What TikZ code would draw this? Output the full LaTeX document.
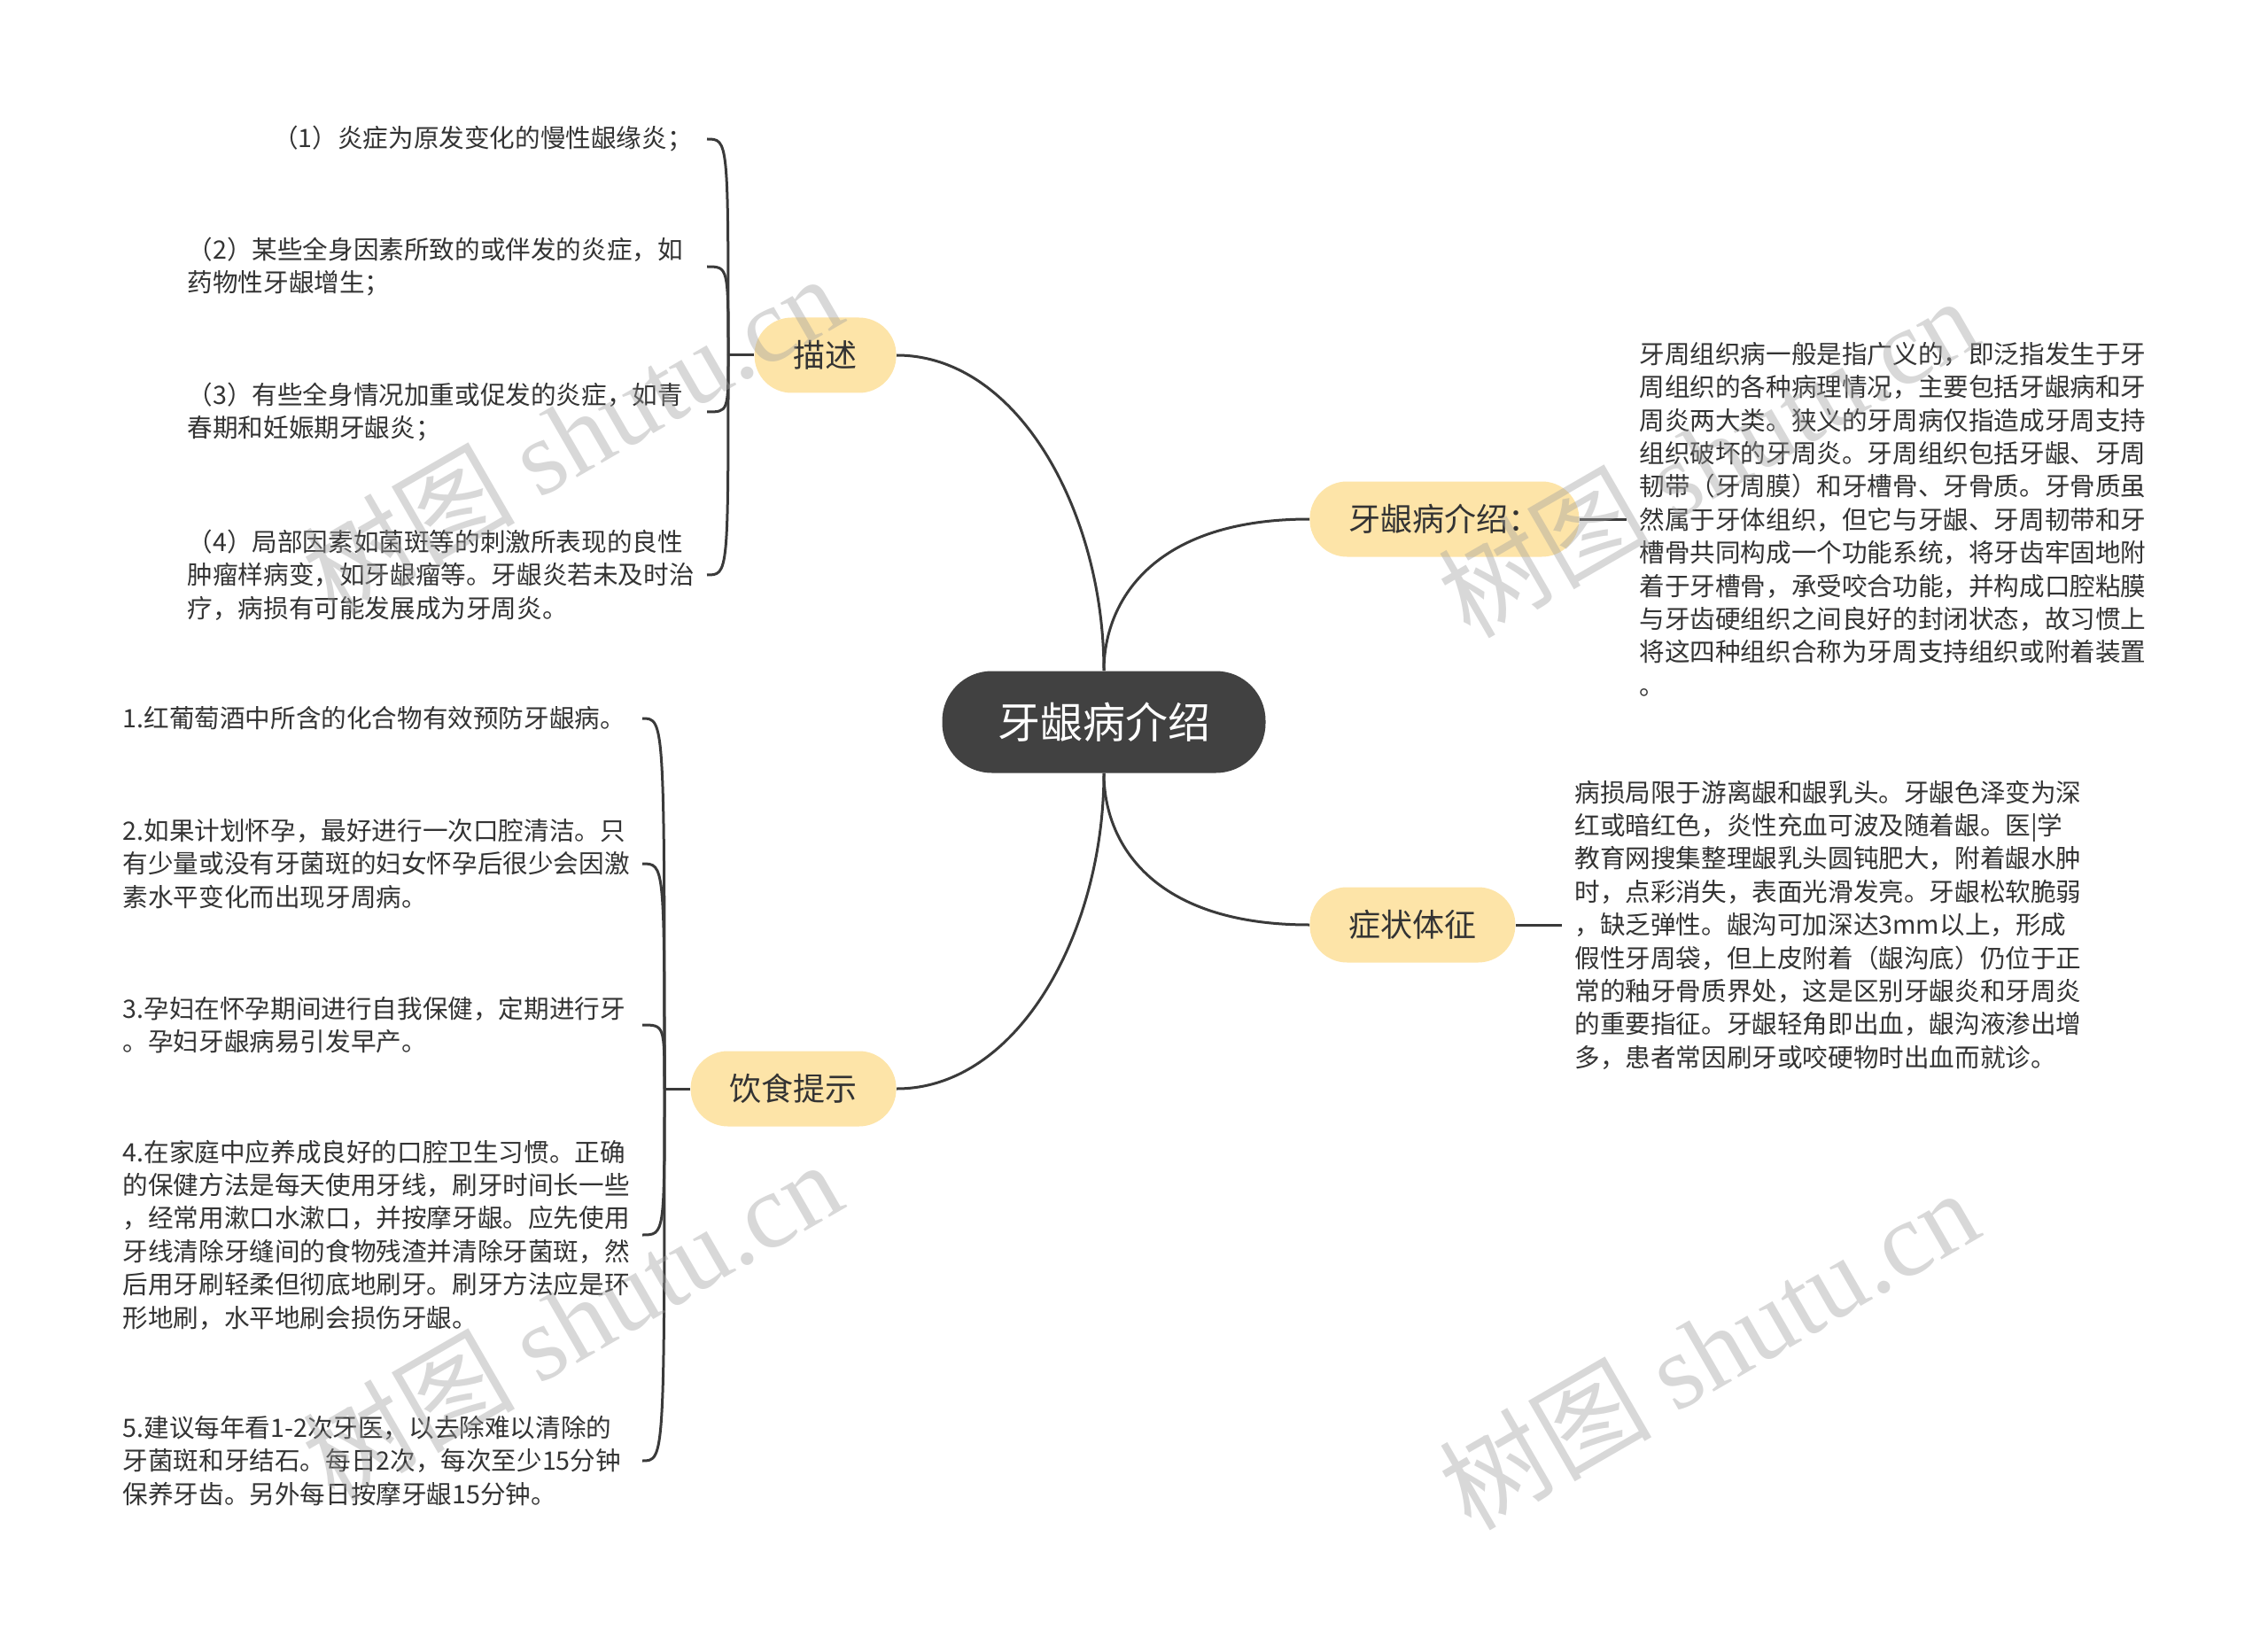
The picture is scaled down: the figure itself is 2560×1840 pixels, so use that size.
\documentclass[tikz,border=0pt]{standalone}
\usepackage{fontspec}
\setmainfont{Noto Sans CJK SC}
\newfontfamily\wmlatin{Liberation Serif}
\definecolor{lineC}{HTML}{3A3A3A}
\definecolor{textC}{HTML}{333333}
\definecolor{branchC}{HTML}{FDE4A8}
\definecolor{rootC}{HTML}{414141}
\definecolor{wmC}{HTML}{9E9E9E}
\begin{document}
\begin{tikzpicture}[x=0.5pt,y=-0.5pt,
  rootnode/.style={fill=rootC, text=white, rounded corners=28pt, minimum width=182.5pt, minimum height=57.5pt, inner sep=0pt, font=\fontsize{24pt}{28pt}\selectfont},
  branch/.style={fill=branchC, text=textC, rounded corners=21pt, minimum height=42.5pt, inner xsep=22pt, inner ysep=0pt, font=\fontsize{18pt}{22pt}\selectfont},
  leafL/.style={text=textC, align=left, inner xsep=8pt, inner ysep=0pt, anchor=east, font=\fontsize{14.3pt}{18.7pt}\selectfont},
  leafW/.style={leafL, text width=287pt, inner xsep=6pt},
  leafR/.style={text=textC, align=left, inner xsep=7pt, inner ysep=0pt, anchor=west, font=\fontsize{14.3pt}{18.7pt}\selectfont},
  conn/.style={draw=lineC, line width=1.5pt},
  wm/.style={text=wmC, text opacity=0.4, rotate=30, inner sep=0pt, font=\fontsize{60pt}{60pt}\selectfont}
]
\useasboundingbox (0,0) rectangle (2560,1840);

% main nodes
\node[rootnode] (root) at (1246,815) {牙龈病介绍};
\node[branch, anchor=east] (ms) at (1012,401) {描述};
\node[branch, anchor=west] (js) at (1478,586) {牙龈病介绍：};
\node[branch, anchor=west] (zz) at (1478,1044) {症状体征};
\node[branch, anchor=east] (ys) at (1012,1229) {饮食提示};

% main connectors
\draw[conn] (root.north) .. controls (1246,580) and (1150,401) .. (ms.east);
\draw[conn] (root.north) .. controls (1246,680) and (1300,586) .. (js.west);
\draw[conn] (root.south) .. controls (1246,951) and (1300,1044) .. (zz.west);
\draw[conn] (root.south) .. controls (1246,1051) and (1150,1229) .. (ys.east);

% right texts
\node[leafR] (t1) at (1836,586) {牙周组织病一般是指广义的，即泛指发生于牙\\周组织的各种病理情况，主要包括牙龈病和牙\\周炎两大类。狭义的牙周病仅指造成牙周支持\\组织破坏的牙周炎。牙周组织包括牙龈、牙周\\韧带（牙周膜）和牙槽骨、牙骨质。牙骨质虽\\然属于牙体组织，但它与牙龈、牙周韧带和牙\\槽骨共同构成一个功能系统，将牙齿牢固地附\\着于牙槽骨，承受咬合功能，并构成口腔粘膜\\与牙齿硬组织之间良好的封闭状态，故习惯上\\将这四种组织合称为牙周支持组织或附着装置\\。};
\node[leafR] (t2) at (1763,1044) {病损局限于游离龈和龈乳头。牙龈色泽变为深\\红或暗红色，炎性充血可波及随着龈。医|学\\教育网搜集整理龈乳头圆钝肥大，附着龈水肿\\时，点彩消失，表面光滑发亮。牙龈松软脆弱\\，缺乏弹性。龈沟可加深达3mm以上，形成\\假性牙周袋，但上皮附着（龈沟底）仍位于正\\常的釉牙骨质界处，这是区别牙龈炎和牙周炎\\的重要指征。牙龈轻角即出血，龈沟液渗出增\\多，患者常因刷牙或咬硬物时出血而就诊。};
\draw[conn] (js.east) -- (t1.west);
\draw[conn] (zz.east) -- (t2.west);

% 描述 children
\node[leafL] (c1) at (798,157) {（1）炎症为原发变化的慢性龈缘炎；};
\node[leafW] (c2) at (798,301) {（2）某些全身因素所致的或伴发的炎症，如\\药物性牙龈增生；};
\node[leafW] (c3) at (798,465) {（3）有些全身情况加重或促发的炎症，如青\\春期和妊娠期牙龈炎；};
\node[leafW] (c4) at (798,649) {（4）局部因素如菌斑等的刺激所表现的良性\\肿瘤样病变，如牙龈瘤等。牙龈炎若未及时治\\疗，病损有可能发展成为牙周炎。};
\coordinate (msj) at (822,401);
\draw[conn] (ms.west) -- (msj);
\foreach \c/\y in {c1/157,c2/301,c3/465,c4/649}{
  \draw[conn] (msj) .. controls (822,\y) and (822,\y) .. (\c.east);
}

% 饮食提示 children
\node[leafW] (d1) at (725,811) {1.红葡萄酒中所含的化合物有效预防牙龈病。};
\node[leafW] (d2) at (725,975) {2.如果计划怀孕，最好进行一次口腔清洁。只\\有少量或没有牙菌斑的妇女怀孕后很少会因激\\素水平变化而出现牙周病。};
\node[leafW] (d3) at (725,1157) {3.孕妇在怀孕期间进行自我保健，定期进行牙\\。孕妇牙龈病易引发早产。};
\node[leafW] (d4) at (725,1394) {4.在家庭中应养成良好的口腔卫生习惯。正确\\的保健方法是每天使用牙线，刷牙时间长一些\\，经常用漱口水漱口，并按摩牙龈。应先使用\\牙线清除牙缝间的食物残渣并清除牙菌斑，然\\后用牙刷轻柔但彻底地刷牙。刷牙方法应是环\\形地刷，水平地刷会损伤牙龈。};
\node[leafW] (d5) at (725,1649) {5.建议每年看1-2次牙医，以去除难以清除的\\牙菌斑和牙结石。每日2次，每次至少15分钟\\保养牙齿。另外每日按摩牙龈15分钟。};
\coordinate (ysj) at (750,1229);
\draw[conn] (ys.west) -- (ysj);
\foreach \c/\y in {d1/811,d2/975,d3/1157,d4/1394,d5/1649}{
  \draw[conn] (ysj) .. controls (750,\y) and (750,\y) .. (\c.east);
}

% watermarks
\node[wm] (w1) at (645,490) {树图 {\wmlatin shutu.cn}};
\node[wm] (w2) at (1927,515) {树图 {\wmlatin shutu.cn}};
\node[wm] (w3) at (645,1490) {树图 {\wmlatin shutu.cn}};
\node[wm] (w4) at (1928,1522) {树图 {\wmlatin shutu.cn}};
\end{tikzpicture}
\end{document}
